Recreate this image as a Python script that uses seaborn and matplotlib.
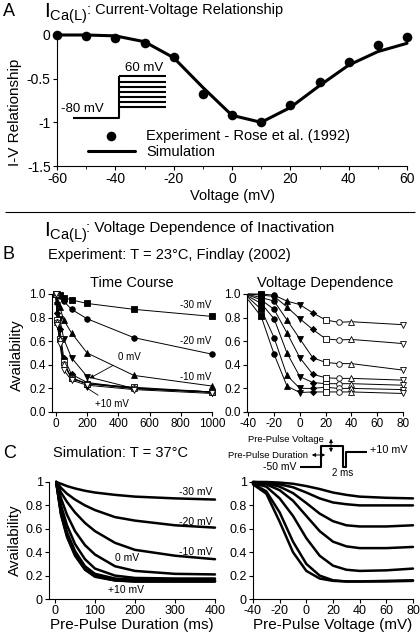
import matplotlib
matplotlib.use("Agg")
import matplotlib.pyplot as plt
from matplotlib.lines import Line2D
from matplotlib.patches import FancyArrowPatch
from matplotlib.ticker import FormatStrFormatter
import seaborn as sns

# Panel A: normalised I-V relationship
iv_voltage = [-60, -50, -40, -30, -20, -10, 0, 10, 20, 30, 40, 50, 60]
iv_experiment = [0.0, -0.01, -0.03, -0.095, -0.25, -0.675, -0.92, -1.0, -0.805, -0.535, -0.305, -0.115, -0.027]
iv_simulation = [0.0, 0.0, -0.01, -0.077, -0.26, -0.6, -0.92, -1.0, -0.83, -0.58, -0.345, -0.19, -0.095]

# Panel B: experiment (Findlay 2002), availability vs pre-pulse duration / voltage
exp_durations = [10, 25, 50, 100, 200, 500, 1000]   # ms
exp_voltages = [-30, -20, -10, 0, 10, 20, 30, 40, 80]  # mV
avail_t0 = 1.0
exp_m30 = [1.00, 0.99, 0.97, 0.95, 0.92, 0.87, 0.81]
exp_m20 = [0.99, 0.98, 0.94, 0.87, 0.79, 0.63, 0.49]
exp_m10 = [0.94, 0.89, 0.78, 0.67, 0.50, 0.31, 0.22]
exp_p0 = [0.91, 0.79, 0.62, 0.46, 0.30, 0.20, 0.165]
exp_p10 = [0.84, 0.70, 0.46, 0.32, 0.25, 0.20, 0.17]
exp_p20 = [0.78, 0.62, 0.42, 0.29, 0.24, 0.21, 0.17]
exp_p30 = [0.76, 0.61, 0.41, 0.285, 0.24, 0.20, 0.17]
exp_p40 = [0.765, 0.615, 0.41, 0.285, 0.24, 0.20, 0.17]
exp_p80 = [0.74, 0.58, 0.355, 0.27, 0.227, 0.19, 0.157]
exp_avail = [exp_m30, exp_m20, exp_m10, exp_p0, exp_p10, exp_p20, exp_p30, exp_p40, exp_p80]
exp_fit_m40 = [1.0, 1.0, 0.995, 0.99, 0.98, 0.97, 0.95]  # fitted curves at -40 mV

# Panel C: simulation, time course
sim_times = [3, 15, 30, 50, 75, 100, 150, 200, 300, 400]
sim_tc_m30 = [1.0, 0.985, 0.965, 0.945, 0.925, 0.91, 0.89, 0.875, 0.86, 0.85]
sim_tc_m20 = [1.0, 0.95, 0.90, 0.85, 0.80, 0.76, 0.70, 0.67, 0.63, 0.61]
sim_tc_m10 = [1.0, 0.91, 0.83, 0.74, 0.65, 0.58, 0.48, 0.42, 0.37, 0.34]
sim_tc_p0 = [1.0, 0.86, 0.72, 0.58, 0.46, 0.38, 0.28, 0.24, 0.215, 0.21]
sim_tc_p10 = [1.0, 0.80, 0.63, 0.47, 0.34, 0.26, 0.20, 0.18, 0.175, 0.175]
sim_tc_p20 = [1.0, 0.76, 0.57, 0.41, 0.28, 0.215, 0.175, 0.165, 0.16, 0.16]
sim_tc_p30 = [1.0, 0.74, 0.55, 0.39, 0.26, 0.20, 0.165, 0.155, 0.155, 0.155]
sim_tc_p40 = [1.0, 0.73, 0.54, 0.38, 0.255, 0.195, 0.16, 0.15, 0.15, 0.15]
sim_tc_p80 = [1.0, 0.72, 0.53, 0.37, 0.25, 0.19, 0.158, 0.15, 0.15, 0.15]
sim_tc = [sim_tc_m30, sim_tc_m20, sim_tc_m10, sim_tc_p0, sim_tc_p10,
          sim_tc_p20, sim_tc_p30, sim_tc_p40, sim_tc_p80]

# Panel C: simulation, voltage dependence (one curve per pre-pulse duration)
sim_prepulse_v = [-40, -30, -20, -10, 0, 10, 20, 30, 40, 60, 80]
sim_vd_1 = [1.0, 1.0, 0.995, 0.985, 0.965, 0.94, 0.91, 0.89, 0.875, 0.865, 0.86]
sim_vd_2 = [1.0, 0.995, 0.98, 0.955, 0.91, 0.86, 0.825, 0.81, 0.80, 0.80, 0.80]
sim_vd_3 = [1.0, 0.99, 0.96, 0.905, 0.82, 0.73, 0.665, 0.63, 0.62, 0.62, 0.63]
sim_vd_4 = [0.99, 0.98, 0.93, 0.84, 0.71, 0.58, 0.49, 0.45, 0.435, 0.435, 0.445]
sim_vd_5 = [0.99, 0.96, 0.86, 0.71, 0.52, 0.37, 0.285, 0.25, 0.24, 0.245, 0.26]
sim_vd_6 = [0.985, 0.92, 0.74, 0.49, 0.30, 0.20, 0.16, 0.15, 0.15, 0.155, 0.16]
sim_vd_7 = [0.98, 0.90, 0.66, 0.40, 0.24, 0.175, 0.155, 0.15, 0.15, 0.15, 0.155]
sim_vd = [sim_vd_1, sim_vd_2, sim_vd_3, sim_vd_4, sim_vd_5, sim_vd_6, sim_vd_7]

exp_markers = ['s', 'o', '^', 'v', 'D', 's', 'o', '^', 'v']
exp_filled = [True, True, True, True, True, False, False, False, False]
exp_msize = [14, 16, 18, 18, 10, 14, 16, 18, 18]

sns.set_style("ticks")
plt.rcParams.update({
    "font.family": ["Liberation Sans", "DejaVu Sans"],
    "axes.unicode_minus": False,
    "mathtext.fontset": "custom",
    "mathtext.rm": "Liberation Sans",
    "mathtext.it": "Liberation Sans:italic",
    "axes.edgecolor": "black",
    "axes.linewidth": 0.8,
    "text.color": "black",
    "axes.labelcolor": "black",
    "xtick.color": "black",
    "ytick.color": "black",
    "xtick.major.size": 3, "ytick.major.size": 3,
    "xtick.minor.size": 2,
    "xtick.major.width": 0.8, "ytick.major.width": 0.8,
    "xtick.major.pad": 1.5, "ytick.major.pad": 1.5,
})

W, H = 420, 635
fig = plt.figure(figsize=(4.2, 6.35), dpi=100)


def box(left, top, right, bottom):
    return [left / W, 1 - bottom / H, (right - left) / W, (bottom - top) / H]


def fx(x):
    return x / W


def fy(y):
    return 1 - y / H


def fig_line(xs, ys, lw=1.5):
    fig.add_artist(Line2D([fx(x) for x in xs], [fy(y) for y in ys],
                          color="black", lw=lw, solid_capstyle="butt"))


def fig_arrow(p0, p1):
    fig.add_artist(FancyArrowPatch((fx(p0[0]), fy(p0[1])), (fx(p1[0]), fy(p1[1])),
                                   transform=fig.transFigure, arrowstyle="<|-|>",
                                   mutation_scale=5, lw=0.7, color="black"))


# ---------------- A ----------------
axA = fig.add_axes(box(57, 35, 407, 166))
sns.scatterplot(x=iv_voltage, y=iv_experiment, ax=axA, s=48, color="black",
                edgecolor="black", linewidth=0, clip_on=False, zorder=3,
                label="Experiment - Rose et al. (1992)")
sns.lineplot(x=iv_voltage, y=iv_simulation, ax=axA, color="black", lw=2.2,
             clip_on=False, label="Simulation")
axA.set_xlim(-60, 60)
axA.set_ylim(-1.5, 0)
axA.set_xticks(range(-60, 61, 20))
axA.set_xticks(range(-50, 60, 20), minor=True)
axA.set_yticks([0, -0.5, -1, -1.5], ["0", "-0.5", "-1", "-1.5"])
axA.tick_params(labelsize=10)
axA.set_xlabel("Voltage (mV)", fontsize=10.5, labelpad=2)
axA.set_ylabel("I-V Relationship", fontsize=11)
axA.yaxis.set_label_coords(fx(22), fy(112), transform=fig.transFigure)
sns.despine(ax=axA)
axA.legend(loc="upper left", bbox_to_anchor=(fx(88), fy(129)), bbox_transform=fig.transFigure,
           frameon=False, fontsize=10.5, handlelength=3.2, handletextpad=0.8,
           labelspacing=0.15, borderpad=0, borderaxespad=0)

# voltage-step protocol sketch
fig_line([73, 119, 119], [118, 118, 76])
for yy in [76, 81.5, 86.5, 91.5, 96.5, 101.5, 107]:
    fig_line([119, 166], [yy, yy])
fig.text(fx(144), fy(68), "60 mV", ha="center", va="center", fontsize=9.5)
fig.text(fx(82), fy(109), "-80 mV", ha="center", va="center", fontsize=9.5)

fig.text(fx(3), fy(12), "A", fontsize=13, va="center")
fig.text(fx(44), fy(14), r"$\mathrm{I_{Ca(L)}}$", fontsize=15, va="center")
fig.text(fx(87), fy(10), ": Current-Voltage Relationship", fontsize=10.5, va="center")

fig_line([5, 415], [212, 212], lw=0.8)
fig.text(fx(44), fy(233), r"$\mathrm{I_{Ca(L)}}$", fontsize=15, va="center")
fig.text(fx(86), fy(228), ": Voltage Dependence of Inactivation", fontsize=11, va="center")

# ---------------- B ----------------
fig.text(fx(3), fy(255), "B", fontsize=13, va="center")
fig.text(fx(48), fy(255), "Experiment: T = 23°C, Findlay (2002)", fontsize=10.5, va="center")

axB1 = fig.add_axes(box(52, 294, 212, 412))
tc_times = [0] + exp_durations
for vals, mk, filled, ms in zip(exp_avail, exp_markers, exp_filled, exp_msize):
    yv = [avail_t0] + vals
    sns.lineplot(x=tc_times, y=yv, ax=axB1, color="black", lw=0.7, clip_on=False)
    sns.scatterplot(x=tc_times, y=yv, ax=axB1, marker=mk, s=ms,
                    color="black" if filled else "white", edgecolor="black",
                    linewidth=0.6, clip_on=False, zorder=3)
axB1.set_xlim(-25, 1000)
axB1.set_ylim(0, 1.0)
axB1.set_xticks(range(0, 1001, 200))
axB1.set_yticks([0, 0.2, 0.4, 0.6, 0.8, 1.0])
axB1.yaxis.set_major_formatter(FormatStrFormatter("%.1f"))
axB1.tick_params(labelsize=8.5)
axB1.set_title("Time Course", fontsize=10.5, pad=5)
axB1.set_ylabel("Availability", fontsize=11)
axB1.yaxis.set_label_coords(fx(24), fy(355), transform=fig.transFigure)
for lab, tx, ty in [("-30 mV", 897, 0.91), ("-20 mV", 897, 0.60), ("-10 mV", 897, 0.30)]:
    axB1.text(tx, ty, lab, fontsize=7, ha="center", va="center")
axB1.annotate("0 mV", xy=(215, 0.285), xytext=(470, 0.47), fontsize=7, ha="center", va="center",
              arrowprops=dict(arrowstyle="-|>", lw=0.6, color="black", mutation_scale=6,
                              shrinkA=1, shrinkB=0))
axB1.annotate("+10 mV", xy=(185, 0.215), xytext=(360, 0.066), fontsize=7, ha="center", va="center",
              arrowprops=dict(arrowstyle="-|>", lw=0.6, color="black", mutation_scale=6,
                              shrinkA=1, shrinkB=0))
sns.despine(ax=axB1)

axB2 = fig.add_axes(box(247, 294, 403, 412))
for j in range(len(exp_durations)):
    yv = [exp_fit_m40[j]] + [vals[j] for vals in exp_avail]
    sns.lineplot(x=[-40] + exp_voltages, y=yv, ax=axB2, color="black", lw=0.7, clip_on=False)
for v, vals, mk, filled, ms in zip(exp_voltages, exp_avail, exp_markers, exp_filled, exp_msize):
    sns.scatterplot(x=[v] * len(vals), y=vals, ax=axB2, marker=mk, s=ms,
                    color="black" if filled else "white", edgecolor="black",
                    linewidth=0.6, clip_on=False, zorder=3)
axB2.set_xlim(-41, 80)
axB2.set_ylim(0, 1.0)
axB2.set_xticks(range(-40, 81, 20))
axB2.set_yticks([0, 0.2, 0.4, 0.6, 0.8, 1.0])
axB2.yaxis.set_major_formatter(FormatStrFormatter("%.1f"))
axB2.tick_params(labelsize=8.5)
axB2.set_title("Voltage Dependence", fontsize=10.5, pad=5)
sns.despine(ax=axB2)

# ---------------- C ----------------
fig.text(fx(3), fy(453), "C", fontsize=13, va="center")
fig.text(fx(53), fy(453), "Simulation: T = 37°C", fontsize=10.5, va="center")

axC1 = fig.add_axes(box(49, 482, 215, 599))
for vals in sim_tc:
    sns.lineplot(x=sim_times, y=vals, ax=axC1, color="black", lw=1.8, clip_on=False)
axC1.set_xlim(-15, 400)
axC1.set_ylim(0, 1)
axC1.set_xticks(range(0, 401, 100))
axC1.set_yticks([0, 0.2, 0.4, 0.6, 0.8, 1], ["0", "0.2", "0.4", "0.6", "0.8", "1"])
axC1.tick_params(labelsize=9)
axC1.set_xlabel("Pre-Pulse Duration (ms)", fontsize=11, labelpad=0.5)
axC1.set_ylabel("Availability", fontsize=11)
axC1.yaxis.set_label_coords(fx(22), fy(540), transform=fig.transFigure)
for lab, tx, ty in [("-30 mV", 352, 0.915), ("-20 mV", 352, 0.66), ("-10 mV", 352, 0.40),
                    ("0 mV", 180, 0.35), ("+10 mV", 178, 0.077)]:
    axC1.text(tx, ty, lab, fontsize=7.5, ha="center", va="center")
sns.despine(ax=axC1)

axC2 = fig.add_axes(box(253, 482, 413, 599))
for vals in sim_vd:
    sns.lineplot(x=sim_prepulse_v, y=vals, ax=axC2, color="black", lw=1.8, clip_on=False)
axC2.set_xlim(-40, 80)
axC2.set_ylim(0, 1)
axC2.set_xticks(range(-40, 81, 20))
axC2.set_yticks([0, 0.2, 0.4, 0.6, 0.8, 1], ["0", "0.2", "0.4", "0.6", "0.8", "1"])
axC2.tick_params(labelsize=9)
axC2.set_xlabel("Pre-Pulse Voltage (mV)", fontsize=11, labelpad=0.5)
sns.despine(ax=axC2)

# pre-pulse protocol sketch
fig_line([300, 321, 321, 343, 343, 346, 346, 367], [467, 467, 446, 446, 467, 467, 452, 452])
fig_arrow((331, 436), (331, 455))
fig_arrow((309, 455), (328, 455))
fig.text(fx(324), fy(439), "Pre-Pulse Voltage", ha="right", va="center", fontsize=6.8)
fig.text(fx(308), fy(455), "Pre-Pulse Duration", ha="right", va="center", fontsize=6.8)
fig.text(fx(296), fy(467), "-50 mV", ha="right", va="center", fontsize=7.5)
fig.text(fx(370), fy(450), "+10 mV", ha="left", va="center", fontsize=7.8)
fig.text(fx(343), fy(473), "2 ms", ha="center", va="center", fontsize=7)

fig.savefig("out.png", dpi=100)
